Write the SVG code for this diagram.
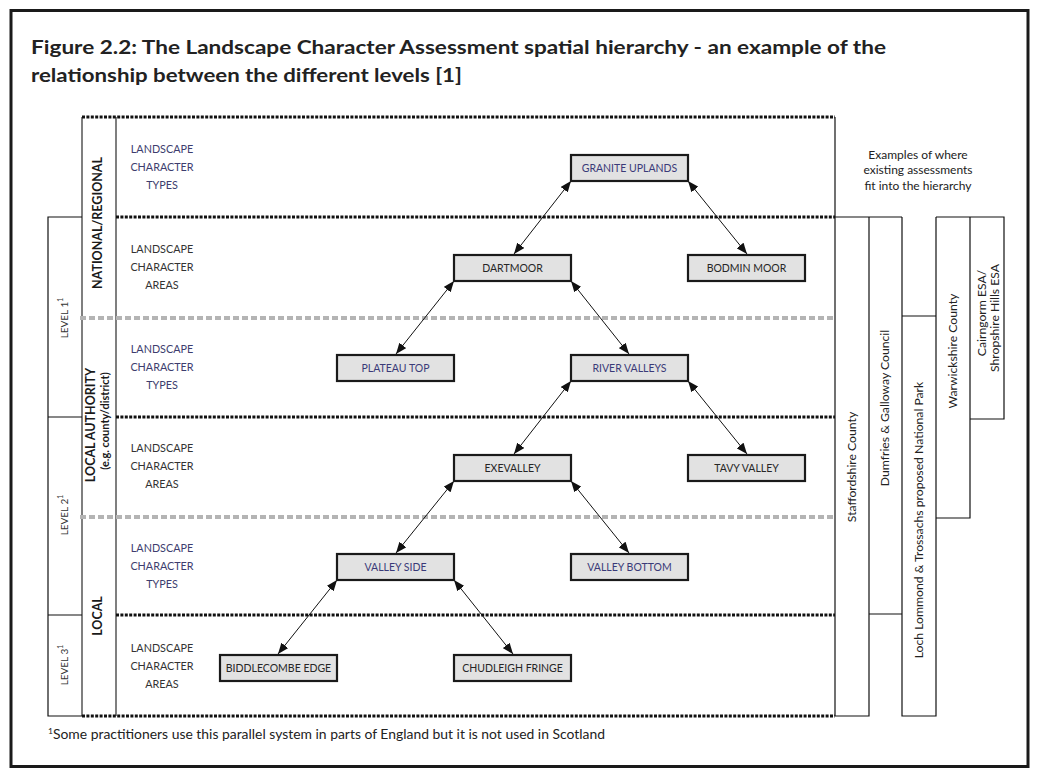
<svg xmlns="http://www.w3.org/2000/svg" width="1039" height="777" viewBox="0 0 1039 777">
<defs>
<style>
text{font-family:Lato,"Open Sans","Liberation Sans",sans-serif;}
.title{font-size:19.5px;font-weight:bold;fill:#222;}
.row{font-size:10.8px;text-anchor:middle;}
.types{fill:#3d3d6e;}
.areas{fill:#333;}
.box rect{fill:#e2e2e2;stroke:#1a1a1a;stroke-width:2.2;}
.box text{font-size:10.5px;text-anchor:middle;}
.navy{fill:#3a3a78;}
.dark{fill:#262626;}
.vlab{font-size:12.5px;font-weight:bold;fill:#1a1a1a;text-anchor:middle;}
.vsub{font-size:11px;font-weight:bold;fill:#1a1a1a;text-anchor:middle;}
.lvl{font-size:10px;fill:#333;text-anchor:middle;}
.ex{font-size:12px;fill:#222;text-anchor:middle;}
.col{font-size:12.2px;fill:#222;text-anchor:middle;}
.dot{stroke:#111;stroke-width:3;stroke-dasharray:3 1.4;fill:none;}
.grey{stroke:#b4b4b4;stroke-width:4;stroke-dasharray:6 3;fill:none;}
.thin{stroke:#111;stroke-width:1.2;fill:none;}
.gline{stroke:#555;stroke-width:1.5;fill:none;}
.conn line{stroke:#111;stroke-width:1;marker-start:url(#ah);marker-end:url(#ah);}
</style>
<marker id="ah" viewBox="0 0 10 8" refX="10" refY="4" markerWidth="11" markerHeight="9" markerUnits="userSpaceOnUse" orient="auto-start-reverse">
<path d="M0,0 L10,4 L0,8 z" fill="#111"/>
</marker>
</defs>
<rect x="0" y="0" width="1039" height="777" fill="#fff"/>
<rect x="11" y="10.5" width="1017" height="756" fill="none" stroke="#1a1a1a" stroke-width="3"/>

<g id="title">
<text class="title" x="31" y="54" textLength="855" lengthAdjust="spacingAndGlyphs">Figure 2.2: The Landscape Character Assessment spatial hierarchy - an example of the</text>
<text class="title" x="31" y="82" textLength="431" lengthAdjust="spacingAndGlyphs">relationship between the different levels [1]</text>
</g>

<g id="frame">
<line class="gline" x1="82" y1="117" x2="82" y2="716"/>
<line class="gline" x1="116" y1="117" x2="116" y2="716"/>
<line class="thin" x1="835" y1="117" x2="835" y2="716"/>
<line class="dot" x1="82" y1="117" x2="835" y2="117"/>
<line class="dot" x1="116" y1="217" x2="835" y2="217"/>
<line class="grey" x1="80" y1="318" x2="835" y2="318"/>
<line class="dot" x1="116" y1="417" x2="835" y2="417"/>
<line class="grey" x1="80" y1="517" x2="835" y2="517"/>
<line class="dot" x1="116" y1="615" x2="835" y2="615"/>
<line class="dot" x1="82" y1="716" x2="835" y2="716"/>
</g>

<g id="levels">
<path class="thin" d="M82,217 H48 V716 H82 M48,417 H82 M48,615 H82"/>
<text class="lvl" transform="translate(68,318) rotate(-90)">LEVEL 1<tspan dy="-5" font-size="7">1</tspan></text>
<text class="lvl" transform="translate(68,515) rotate(-90)">LEVEL 2<tspan dy="-5" font-size="7">1</tspan></text>
<text class="lvl" transform="translate(68,665) rotate(-90)">LEVEL 3<tspan dy="-5" font-size="7">1</tspan></text>
</g>

<g id="scales">
<text class="vlab" transform="translate(102,223) rotate(-90)">NATIONAL/REGIONAL</text>
<text class="vlab" transform="translate(95,425) rotate(-90)">LOCAL AUTHORITY</text>
<text class="vsub" transform="translate(109,421) rotate(-90)">(e.g. county/district)</text>
<text class="vlab" transform="translate(102,616) rotate(-90)">LOCAL</text>
</g>

<g id="row-labels">
<text class="row types" x="162" y="153">LANDSCAPE</text>
<text class="row types" x="162" y="171">CHARACTER</text>
<text class="row types" x="162" y="189">TYPES</text>
<text class="row areas" x="162" y="253">LANDSCAPE</text>
<text class="row areas" x="162" y="271">CHARACTER</text>
<text class="row areas" x="162" y="289">AREAS</text>
<text class="row types" x="162" y="353">LANDSCAPE</text>
<text class="row types" x="162" y="371">CHARACTER</text>
<text class="row types" x="162" y="389">TYPES</text>
<text class="row areas" x="162" y="452">LANDSCAPE</text>
<text class="row areas" x="162" y="470">CHARACTER</text>
<text class="row areas" x="162" y="488">AREAS</text>
<text class="row types" x="162" y="552">LANDSCAPE</text>
<text class="row types" x="162" y="570">CHARACTER</text>
<text class="row types" x="162" y="588">TYPES</text>
<text class="row areas" x="162" y="652">LANDSCAPE</text>
<text class="row areas" x="162" y="670">CHARACTER</text>
<text class="row areas" x="162" y="688">AREAS</text>
</g>

<g id="connectors" class="conn">
<line x1="571" y1="181" x2="514" y2="254"/>
<line x1="688" y1="181" x2="747" y2="254"/>
<line x1="454" y1="281" x2="396" y2="354"/>
<line x1="571" y1="281" x2="629" y2="354"/>
<line x1="571" y1="381" x2="514" y2="454"/>
<line x1="688" y1="381" x2="747" y2="454"/>
<line x1="454" y1="481" x2="396" y2="553"/>
<line x1="571" y1="481" x2="629" y2="553"/>
<line x1="337" y1="580" x2="278" y2="654"/>
<line x1="454" y1="580" x2="513" y2="654"/>
</g>

<g id="granite-uplands" class="box"><rect x="571" y="155" width="117" height="26"/><text class="navy" x="629.5" y="172">GRANITE UPLANDS</text></g>
<g id="dartmoor" class="box"><rect x="454" y="255" width="117" height="26"/><text class="dark" x="512.5" y="272">DARTMOOR</text></g>
<g id="bodmin-moor" class="box"><rect x="688" y="255" width="117" height="26"/><text class="dark" x="746.5" y="272">BODMIN MOOR</text></g>
<g id="plateau-top" class="box"><rect x="337" y="355" width="117" height="26"/><text class="navy" x="395.5" y="372">PLATEAU TOP</text></g>
<g id="river-valleys" class="box"><rect x="571" y="355" width="117" height="26"/><text class="navy" x="629.5" y="372">RIVER VALLEYS</text></g>
<g id="exevalley" class="box"><rect x="454" y="455" width="117" height="26"/><text class="dark" x="512.5" y="472">EXEVALLEY</text></g>
<g id="tavy-valley" class="box"><rect x="688" y="455" width="117" height="26"/><text class="dark" x="746.5" y="472">TAVY VALLEY</text></g>
<g id="valley-side" class="box"><rect x="337" y="554" width="117" height="26"/><text class="navy" x="395.5" y="571">VALLEY SIDE</text></g>
<g id="valley-bottom" class="box"><rect x="571" y="554" width="117" height="26"/><text class="navy" x="629.5" y="571">VALLEY BOTTOM</text></g>
<g id="biddlecombe-edge" class="box"><rect x="220" y="655" width="117" height="26"/><text class="dark" x="278.5" y="672">BIDDLECOMBE EDGE</text></g>
<g id="chudleigh-fringe" class="box"><rect x="454" y="655" width="117" height="26"/><text class="dark" x="512.5" y="672">CHUDLEIGH FRINGE</text></g>

<g id="examples">
<text class="ex" x="918" y="159">Examples of where</text>
<text class="ex" x="918" y="174">existing assessments</text>
<text class="ex" x="918" y="190">fit into the hierarchy</text>
<path class="thin" d="M835,217 H902 M869,217 V716 H835 M902,217 V614 H869 M902,316 H936 V716 H902 V316 M936,217 H1004 V419 H970 M970,217 V518 H936 V217"/>
<text class="col" transform="translate(856,467) rotate(-90)">Staffordshire County</text>
<text class="col" transform="translate(889,408) rotate(-90)">Dumfries &amp; Galloway Council</text>
<text class="col" transform="translate(923,520) rotate(-90)">Loch Lommond &amp; Trossachs proposed National Park</text>
<text class="col" transform="translate(957,351) rotate(-90)">Warwickshire County</text>
<text class="col" transform="translate(986,313) rotate(-90)">Cairngorm ESA/</text>
<text class="col" transform="translate(999,318) rotate(-90)">Shropshire Hills ESA</text>
</g>

<g id="footnote">
<text x="48" y="739" font-size="13" fill="#222" textLength="557" lengthAdjust="spacingAndGlyphs"><tspan font-size="8" dy="-5">1</tspan><tspan dy="5">Some practitioners use this parallel system in parts of England but it is not used in Scotland</tspan></text>
</g>
</svg>
